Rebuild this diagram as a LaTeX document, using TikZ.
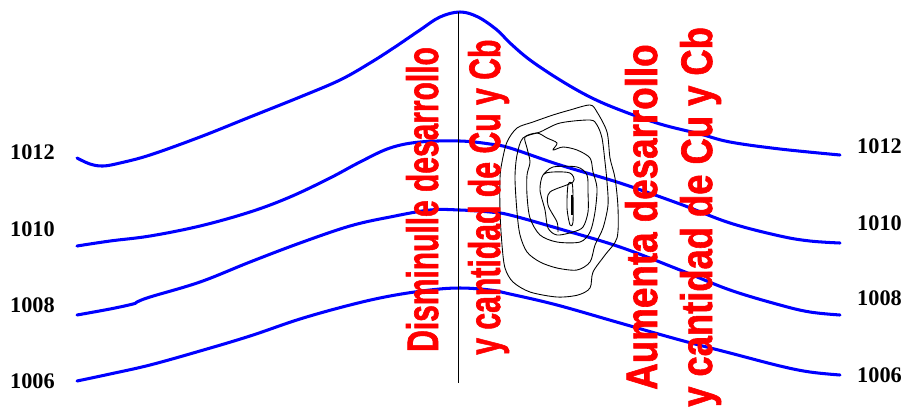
\documentclass[tikz,border=0pt]{standalone}
\usepackage{fontspec}
\setmainfont{Liberation Serif}
\newfontfamily\rotulo[BoldFeatures={FakeBold=1.6}]{Liberation Sans}
\usetikzlibrary{positioning}
\tikzset{isobara/.style = {blue, line width=2.6pt, line cap=round},
         presion/.style = {font=\fontsize{19}{21}\selectfont\bfseries,
                           inner sep=0pt, anchor=base west},
         aviso/.style = {red, inner sep=0pt, anchor=base west, rotate=90,
                         font=\rotulo\fontsize{37.6}{40}\selectfont\bfseries},
         nube/.style = {black, line width=0.75pt, line join=round}}

\begin{document}
\begin{tikzpicture}[x=0.03cm, y=-0.03cm]
    \useasboundingbox (0,0) rectangle (902,409);

    % isobaras
    \draw [isobara] plot [smooth, tension=0.6] coordinates {(77,158) (90,164) (103,166)
      (120,163) (150,155) (200,137) (250,117) (300,97) (340,80) (370,63) (395,47)
      (420,30) (440,17) (460,12) (478,17) (497,30) (510,43) (530,60) (560,80)
      (590,97) (620,110) (660,124) (700,134) (730,142) (780,149) (840,155)};
    \draw [isobara] plot [smooth, tension=0.6] coordinates {(77,246) (110,241) (150,236)
      (200,226) (250,212) (290,197) (330,178) (360,162) (390,148) (420,142) (460,141)
      (490,144) (510,148) (560,165) (620,183) (680,204) (730,223) (780,236) (810,241)
      (840,243)};
    \draw [isobara] plot [smooth, tension=0.6] coordinates {(77,315) (110,309) (133,304)
      (137,302) (150,297) (200,282) (250,262) (300,243) (350,226) (390,217) (430,210)
      (460,210) (490,212) (510,215) (560,229) (620,247) (680,270) (730,290) (780,305)
      (810,312) (840,315)};
    \draw [isobara] plot [smooth, tension=0.6] coordinates {(77,381) (110,374) (150,365)
      (200,351) (250,336) (300,319) (350,305) (390,296) (430,290) (460,288) (490,290)
      (510,294) (557,305) (620,323) (680,340) (730,353) (780,366) (810,372) (840,375)};

    % eje de la cuna
    \coordinate (cima) at (458,12);
    \coordinate (pie) at (458,383);
    \draw [black, line width=0.8pt] (cima) -- (pie);

    % nucleo convectivo
    \draw [nube] plot [smooth cycle, tension=0.5] coordinates {(590,105) (597,112)
      (607,132) (610,158) (615,178) (618,208) (617,238) (605,255) (593,272) (590,288)
      (578,295) (557,297) (530,292) (513,282) (505,268) (502,245) (500,212) (500,178)
      (502,162) (507,142) (517,128) (533,122) (553,115) (570,110)};
    \draw [nube] plot [smooth cycle, tension=0.5] coordinates {(540,132) (560,123)
      (590,120) (597,125) (602,138) (605,162) (607,182) (608,205) (603,228) (595,245)
      (590,262) (577,270) (557,268) (540,262) (527,252) (520,235) (517,212) (515,178)
      (517,155) (523,138)};
    \draw [nube] plot [smooth cycle, tension=0.5] coordinates {(525,137) (537,133)
      (547,138) (557,143) (553,150) (563,147) (577,150) (590,158) (593,172) (597,188)
      (595,212) (590,232) (580,242) (557,242) (540,235) (530,218) (527,195) (527,175)
      (530,162) (527,148)};
    \draw [nube] plot [smooth, tension=0.5] coordinates {(543,175) (553,167) (577,167)
      (587,175) (588,192) (588,212) (583,227) (573,232) (557,235) (548,228) (545,210)
      (540,190) (543,175) (553,172) (570,173) (573,182) (550,192) (548,205) (557,222)
      (558,232)};
    \draw [nube] plot [smooth cycle, tension=0.5] coordinates {(568,185) (572,183)
      (573,195) (573,222) (570,225) (567,208)};
    \draw [black, line width=1.6pt] (572,195) -- (572,215);

    % valores de presion
    \foreach \p/\yl/\yr in {1012/159/153, 1010/236/230, 1008/312/305, 1006/388/382} {
      \node [presion] (izq\p) at (10,\yl) {\p};
      \node [presion] (der\p) at (857,\yr) {\p};
    }

    % textos
    \node [aviso] (disminuye) at (438,352) {\scalebox{0.68}[1]{Disminulle desarrollo}};
    \node [aviso] (cantidadA) at (500,355) {\scalebox{0.685}[1]{y cantidad de Cu y Cb}};
    \node [aviso] (aumenta) at (657,390) {\scalebox{0.835}[1]{Aumenta desarrollo}};
    \node [aviso] (cantidadB) at (712,407) {\scalebox{0.825}[1]{y cantidad de Cu y Cb}};
  \end{tikzpicture}
\end{document}
